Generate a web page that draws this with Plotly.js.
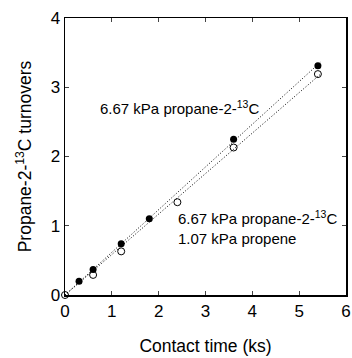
<!DOCTYPE html>
<html><head><meta charset="utf-8">
<script src="https://cdn.plot.ly/plotly-3.0.1.min.js"></script>
<style>body{margin:0;background:#fff}#c{width:352px;height:358px}</style>
</head><body><div id="c"></div>
<script>
const filledX = [0.3, 0.6, 1.2, 1.8, 3.6, 5.4];
const filledY = [0.2, 0.37, 0.74, 1.1, 2.25, 3.31];
const openX = [0, 0.6, 1.2, 2.4, 3.6, 5.4];
const openY = [0, 0.29, 0.63, 1.34, 2.13, 3.19];
const lineEnd = 5.45;
const label1 = '6.67 kPa propane-2-<sup>13</sup>C';
const label2 = '6.67 kPa propane-2-<sup>13</sup>C<br>1.07 kPa propene';

function slopeThroughOrigin(xs, ys){
  let sxy=0, sxx=0;
  for(let i=0;i<xs.length;i++){sxy+=xs[i]*ys[i]; sxx+=xs[i]*xs[i];}
  return sxy/sxx;
}
const sF = slopeThroughOrigin(filledX, filledY);
const sO = slopeThroughOrigin(openX, openY);

const font = {family:'Liberation Sans, Arial, sans-serif', color:'#000'};
const f = s => Object.assign({size:s}, font);
const dotLine = {color:'#000', width:1, dash:'1px,2px'};
const traces = [
  {x:[0, lineEnd], y:[0, sF*lineEnd], mode:'lines', line:dotLine, hoverinfo:'skip'},
  {x:[0, lineEnd], y:[0, sO*lineEnd], mode:'lines', line:dotLine, hoverinfo:'skip'},
  {x:filledX, y:filledY, mode:'markers', marker:{symbol:'circle', size:7, color:'#000'}, cliponaxis:false},
  {x:openX, y:openY, mode:'markers', marker:{symbol:'circle-open', size:7, color:'#000', line:{width:1}}, cliponaxis:false}
];
const layout = {
  width:352, height:358, showlegend:false,
  paper_bgcolor:'#fff', plot_bgcolor:'#fff',
  margin:{l:65, r:6, t:18, b:63},
  font:f(15),
  xaxis:{range:[0,6], tickvals:[0,1,2,3,4,5,6], ticks:'inside', ticklen:4, mirror:'allticks',
    showline:true, linecolor:'#000', linewidth:1.5, showgrid:false, zeroline:false,
    tickfont:f(17),
    title:{text:'Contact time (ks)', font:f(17.5), standoff:20}},
  yaxis:{range:[0,4], tickvals:[0,1,2,3,4], ticks:'inside', ticklen:4, mirror:'allticks',
    showline:true, linecolor:'#000', linewidth:1.5, showgrid:false, zeroline:false,
    tickfont:f(17),
    title:{text:'Propane-2-<sup>13</sup>C turnovers', font:f(17.5), standoff:14}},
  annotations:[
    {x:0.7, y:2.71, xref:'x', yref:'y', xanchor:'left', yanchor:'middle', showarrow:false,
     text:label1, font:f(15)},
    {x:2.37, y:0.98, xref:'x', yref:'y', xanchor:'left', yanchor:'middle', showarrow:false, align:'left',
     text:label2, font:f(15)}
  ]
};
Plotly.newPlot('c', traces, layout, {displayModeBar:false, staticPlot:true});
</script></body></html>
